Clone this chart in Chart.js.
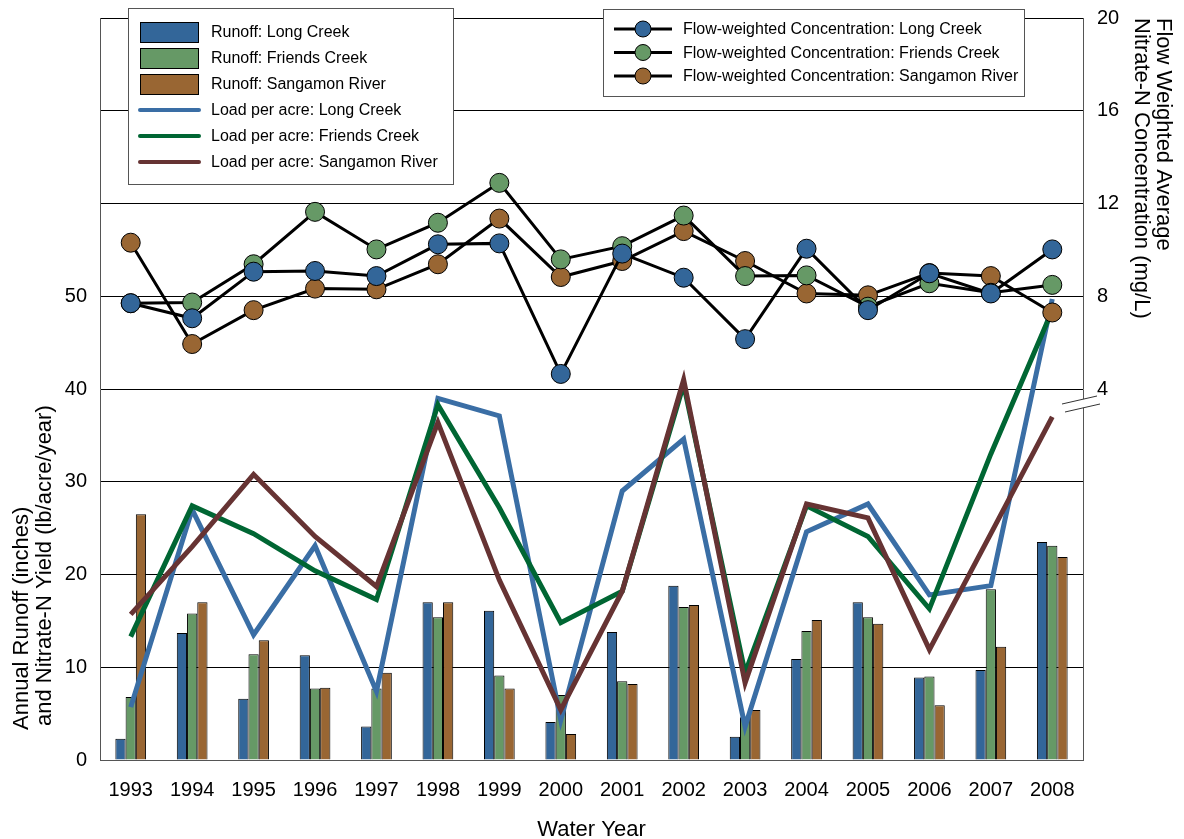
<!DOCTYPE html>
<html>
<head>
    <title>Runoff, Nitrate-N Yield and Concentration</title>
    <script src="https://cdn.jsdelivr.net/npm/chart.js"></script>
    <style>
        body { margin: 0; background: #fff; }
    </style>
</head>
<body>
<div><canvas id="myChart" width="1184" height="839"></canvas></div>
<script>
// water years
var years = ['1993','1994','1995','1996','1997','1998','1999','2000','2001','2002','2003','2004','2005','2006','2007','2008'];

// annual runoff (inches)
var runoffLong     = [2.3, 13.7, 6.6, 11.3, 3.6, 17.0, 16.1, 4.1, 13.8, 18.8, 2.5, 10.9, 17.0, 8.9, 9.7, 23.5];
var runoffFriends  = [6.8, 15.8, 11.4, 7.7, 7.7, 15.4, 9.1, 7.0, 8.5, 16.5, 4.6, 13.9, 15.4, 9.0, 18.4, 23.1];
var runoffSangamon = [26.5, 17.0, 12.9, 7.8, 9.4, 17.0, 7.7, 2.8, 8.2, 16.7, 5.4, 15.1, 14.7, 5.9, 12.2, 21.9];

// nitrate-N load per acre (lb/acre/year)
var loadLong     = [5.7, 27.0, 13.5, 23.1, 7.4, 39.0, 37.1, 4.3, 29.0, 34.6, 3.6, 24.6, 27.6, 17.8, 18.8, 49.7];
var loadFriends  = [13.3, 27.4, 24.4, 20.4, 17.3, 38.3, 27.2, 14.8, 18.2, 40.5, 9.4, 27.4, 24.1, 16.3, 33.0, 48.5];
var loadSangamon = [15.7, 23.0, 30.8, 24.1, 18.7, 36.4, 19.4, 5.4, 18.2, 41.0, 8.3, 27.6, 26.1, 11.9, 24.4, 37.0];

// flow-weighted nitrate-N concentration (mg/L)
var concLong     = [7.70, 7.05, 9.06, 9.09, 8.87, 10.24, 10.28, 4.65, 9.84, 8.80, 6.15, 10.05, 7.40, 8.99, 8.12, 10.02];
var concFriends  = [7.70, 7.73, 9.38, 11.64, 10.02, 11.17, 12.89, 9.59, 10.16, 11.48, 8.87, 8.90, 7.55, 8.56, 8.15, 8.49];
var concSangamon = [10.31, 5.94, 7.40, 8.33, 8.30, 9.38, 11.35, 8.83, 9.52, 10.81, 9.52, 8.12, 8.04, 9.00, 8.87, 7.30];

// axis tick labels
var leftTicks = [0, 10, 20, 30, 40, 50];
var rightTicks = [4, 8, 12, 16, 20];
var leftTitle = ['Annual Runoff (inches)', 'and Nitrate-N Yield (lb/acre/year)'];

var blue = 'rgb(51,102,153)', green = 'rgb(102,153,102)', brown = 'rgb(153,102,51)';
var FONT = '"Liberation Sans", Arial, sans-serif';

function barSet(label, data, color) {
    return { type: 'bar', label: label, data: data, backgroundColor: color,
             borderColor: '#000', borderWidth: 1, yAxisID: 'y', order: 10,
             categoryPercentage: 0.5, barPercentage: 1.0 };
}
function loadSet(label, data, color, order) {
    return { type: 'line', label: label, data: data, borderColor: color, borderWidth: 5,
             pointRadius: 0, tension: 0, fill: false, yAxisID: 'y', order: order };
}
function concSet(label, data, color, order) {
    return { type: 'line', label: label, data: data, borderColor: '#000', borderWidth: 3,
             pointRadius: 9.5, pointBackgroundColor: color, pointBorderColor: '#000',
             pointBorderWidth: 1, tension: 0, fill: false, yAxisID: 'y2', order: order };
}

// draws the two legend boxes, the left axis title and the axis break marks
var extras = {
    id: 'extras',
    afterDraw: function(chart) {
        var ctx = chart.ctx, ds = chart.data.datasets;
        ctx.save();
        ctx.font = '16px ' + FONT;
        ctx.textBaseline = 'middle';

        // left legend: bars and load lines
        ctx.fillStyle = '#fff';
        ctx.fillRect(128, 8, 325, 176);
        ctx.strokeStyle = '#555'; ctx.lineWidth = 1;
        ctx.strokeRect(128.5, 8.5, 325, 176);
        for (var i = 0; i < 6; i++) {
            var d = ds[i], yy = 32 + i * 26;
            if (d.type === 'bar') {
                ctx.fillStyle = d.backgroundColor;
                ctx.fillRect(140, yy - 10, 58, 20);
                ctx.strokeStyle = '#000';
                ctx.strokeRect(140.5, yy - 9.5, 58, 20);
            } else {
                ctx.strokeStyle = d.borderColor; ctx.lineWidth = 4; ctx.lineCap = 'round';
                ctx.beginPath(); ctx.moveTo(140, yy); ctx.lineTo(199, yy); ctx.stroke();
                ctx.lineWidth = 1; ctx.lineCap = 'butt';
            }
            ctx.fillStyle = '#000';
            ctx.fillText(d.label, 211, yy + 1);
        }

        // right legend: concentrations
        ctx.fillStyle = '#fff';
        ctx.fillRect(603, 9, 421, 87);
        ctx.strokeStyle = '#555';
        ctx.strokeRect(603.5, 9.5, 421, 87);
        for (var j = 0; j < 3; j++) {
            var c = ds[6 + j], cy = 29 + j * 23.5;
            ctx.strokeStyle = '#000'; ctx.lineWidth = 3;
            ctx.beginPath(); ctx.moveTo(614, cy); ctx.lineTo(672, cy); ctx.stroke();
            ctx.lineWidth = 1;
            ctx.beginPath(); ctx.arc(643, cy, 8, 0, Math.PI * 2);
            ctx.fillStyle = c.pointBackgroundColor; ctx.fill(); ctx.stroke();
            ctx.fillStyle = '#000';
            ctx.fillText(c.label, 683, cy + 1);
        }

        // left axis title, two lines starting a little above the bottom
        ctx.save();
        ctx.font = '22px ' + FONT;
        ctx.fillStyle = '#000';
        ctx.textAlign = 'left';
        ctx.translate(0, chart.chartArea.bottom - 30);
        ctx.rotate(-Math.PI / 2);
        ctx.fillText(leftTitle[0], 0, 22);
        ctx.fillText(leftTitle[1], 4, 45);
        ctx.restore();

        // break marks on the right axis
        var ax = chart.scales.y2, by = ax.getPixelForValue(4);
        ctx.fillStyle = '#fff';
        ctx.beginPath();
        ctx.moveTo(1062, by + 15); ctx.lineTo(1097, by + 7);
        ctx.lineTo(1100, by + 15); ctx.lineTo(1065, by + 23); ctx.closePath();
        ctx.fill();
        ctx.strokeStyle = '#333'; ctx.lineWidth = 1;
        ctx.beginPath();
        ctx.moveTo(1062, by + 15); ctx.lineTo(1097, by + 7);
        ctx.moveTo(1065, by + 23); ctx.lineTo(1100, by + 15);
        ctx.stroke();
        ctx.restore();
    }
};

// fixed axis sizes so the plot area lands where the original has it
function fixVertical(width) {
    return function(s) { s.width = width; s.paddingTop = 0; s.paddingBottom = 0; };
}

var myChart = new Chart(document.getElementById('myChart').getContext('2d'), {
    type: 'bar',
    data: {
        labels: years,
        datasets: [
            barSet('Runoff: Long Creek', runoffLong, blue),
            barSet('Runoff: Friends Creek', runoffFriends, green),
            barSet('Runoff: Sangamon River', runoffSangamon, brown),
            loadSet('Load per acre: Long Creek', loadLong, 'rgb(58,110,165)', 7),
            loadSet('Load per acre: Friends Creek', loadFriends, 'rgb(0,102,51)', 6),
            loadSet('Load per acre: Sangamon River', loadSangamon, 'rgb(102,51,51)', 5),
            concSet('Flow-weighted Concentration: Long Creek', concLong, blue, 1),
            concSet('Flow-weighted Concentration: Friends Creek', concFriends, green, 2),
            concSet('Flow-weighted Concentration: Sangamon River', concSangamon, brown, 3)
        ]
    },
    options: {
        responsive: false,
        animation: false,
        layout: { padding: { top: 18 } },
        plugins: { legend: { display: false }, tooltip: { enabled: false } },
        scales: {
            x: {
                grid: { display: false },
                border: { color: '#555' },
                ticks: { color: '#000', font: { family: FONT, size: 20 }, padding: 10 },
                title: { display: true, text: 'Water Year', color: '#000',
                         font: { family: FONT, size: 22, lineHeight: 1 }, padding: { top: 0, bottom: -2 } },
                afterFit: function(s) { s.height = 79; }
            },
            y: {
                position: 'left', min: 0, max: 80,
                grid: { color: '#000', lineWidth: 1, drawTicks: false },
                border: { color: '#555' },
                ticks: {
                    stepSize: 10, color: '#000', font: { family: FONT, size: 20 }, padding: 13,
                    callback: function(v) { return leftTicks.indexOf(v) >= 0 ? v : ''; }
                },
                afterFit: fixVertical(100)
            },
            y2: {
                position: 'right', min: -12, max: 20,
                grid: { display: false, drawTicks: false },
                border: { color: '#555' },
                ticks: {
                    stepSize: 4, color: '#000', font: { family: FONT, size: 20 }, padding: 14,
                    callback: function(v) { return rightTicks.indexOf(v) >= 0 ? v : ''; }
                },
                title: { display: true, align: 'end', color: '#000',
                         text: ['Flow Weighted Average', 'Nitrate-N Concentration (mg/L)'],
                         font: { family: FONT, size: 22, lineHeight: 1 }, padding: { top: 10, bottom: 0 } },
                afterFit: fixVertical(101)
            }
        }
    },
    plugins: [extras]
});
</script>
</body>
</html>
